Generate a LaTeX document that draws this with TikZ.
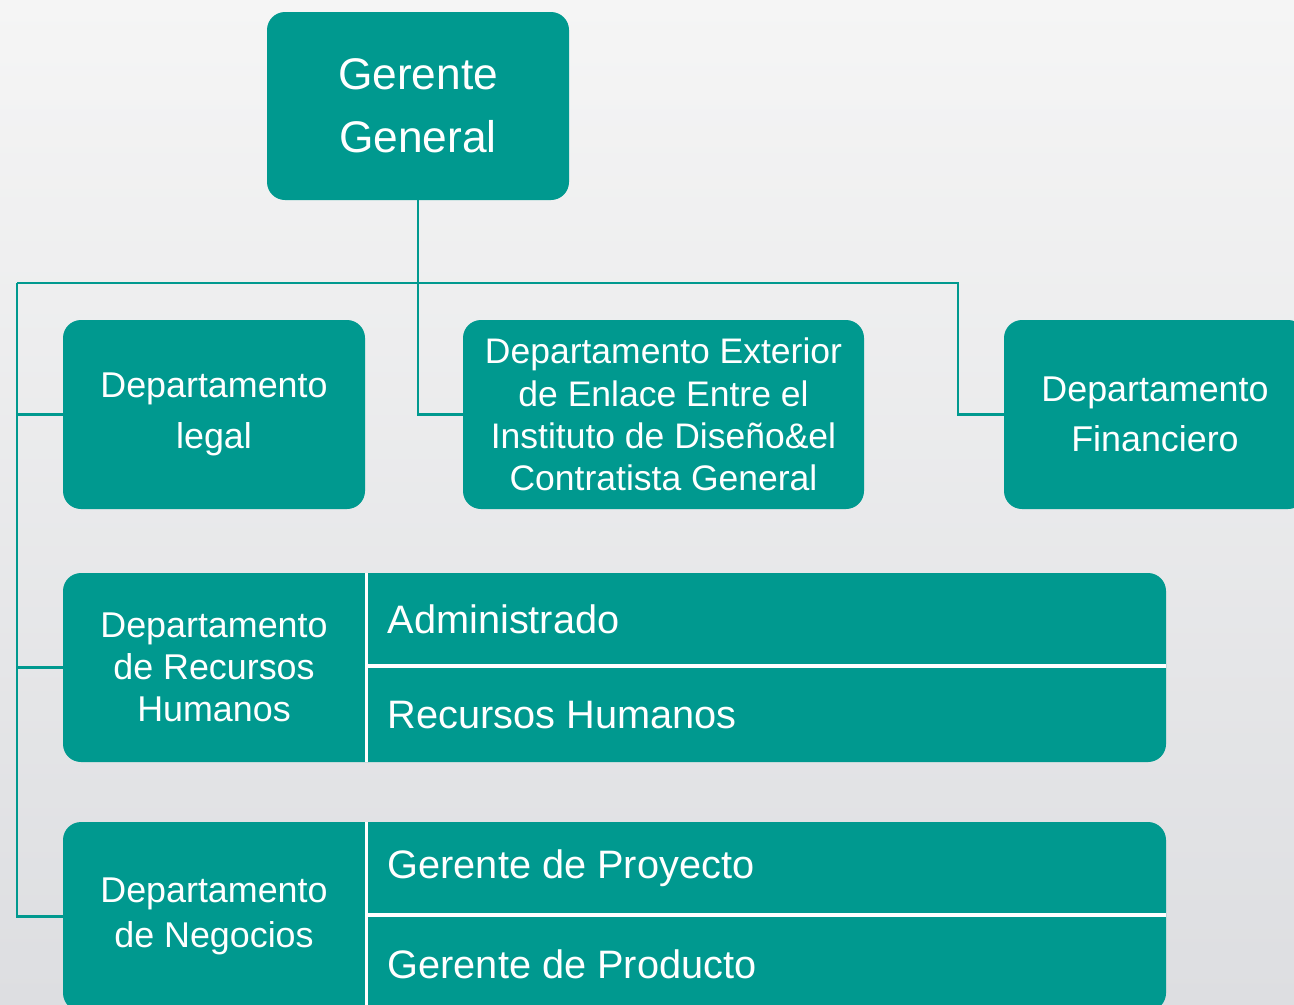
\documentclass[tikz,border=0pt]{standalone}
\usepackage{fontspec}
\setmainfont{Liberation Sans}
\usepackage{tikz}
\definecolor{orgteal}{RGB}{0,153,143}
\definecolor{fondoA}{RGB}{245,245,245}
\definecolor{fondoB}{RGB}{221,222,225}

\begin{document}
\begin{tikzpicture}[
        caja/.style={fill=orgteal, rounded corners=0.18cm, minimum width=3.02cm, minimum height=1.89cm,
            inner sep=0pt, outer sep=0pt, text=white, align=center, font=\fontsize{10.2}{14.5}\selectfont},
        subtexto/.style={anchor=base west, text=white, inner sep=0pt, font=\fontsize{11.3}{13}\selectfont},
        enlace/.style={draw=orgteal, line width=0.6pt},
        divisor/.style={draw=white, line width=0.9pt}]
        \useasboundingbox (0,0) rectangle (12.94,-10.04);
        \clip (0,0) rectangle (12.94,-10.04);
        % 背景
        \shade[top color=fondoA, bottom color=fondoB] (0,0) rectangle (12.94,-10.04);
        % 总经理
        \node[caja, minimum height=1.88cm, font=\fontsize{12.6}{18}\selectfont] (gg) at (4.18,-1.06) {Gerente\\General};
        % 第一层部门
        \node[caja] (legal) at (2.14,-4.145) {Departamento\\legal};
        \node[caja, minimum width=4.01cm, font=\fontsize{10.1}{12}\selectfont] (ext) at (6.635,-4.145)
            {Departamento Exterior\\de Enlace Entre el\\Instituto de Diseño\&el\\Contratista General};
        \node[caja, font=\fontsize{10.2}{14.2}\selectfont] (fin) at (11.55,-4.145) {Departamento\\Financiero};
        % 人力资源部
        \node[caja, minimum width=11.03cm] (rrhh) at (6.145,-6.675) {};
        \node[caja, fill=none, font=\fontsize{10.2}{12}\selectfont] (rrhhlab) at (2.14,-6.675) {Departamento\\de Recursos\\Humanos};
        \draw[divisor] (3.665,-5.73)--(3.665,-7.62);
        \draw[divisor] (3.665,-6.66)--(11.66,-6.66);
        \node[subtexto] (admin) at (3.87,-6.33) {Administrado};
        \node[subtexto] (rh) at (3.87,-7.28) {Recursos Humanos};
        % 业务部
        \node[caja, minimum width=11.03cm] (neg) at (6.145,-9.165) {};
        \node[caja, fill=none, font=\fontsize{10.2}{13}\selectfont] (neglab) at (2.14,-9.165) {Departamento\\de Negocios};
        \draw[divisor] (3.665,-8.22)--(3.665,-10.11);
        \draw[divisor] (3.665,-9.15)--(11.66,-9.15);
        \node[subtexto] (proy) at (3.87,-8.78) {Gerente de Proyecto};
        \node[subtexto] (prod) at (3.87,-9.78) {Gerente de Producto};
        % 连线
        \coordinate (busL) at (0.17,-2.83);
        \coordinate (busR) at (9.58,-2.83);
        \draw[enlace] (gg.south) |- (ext.west);
        \draw[enlace] (busL) -- (busR) |- (fin.west);
        \draw[enlace] (busL) |- (legal.west);
        \draw[enlace] (busL) |- (rrhh.west);
        \draw[enlace] (busL) |- (neg.west);
    \end{tikzpicture}
\end{document}
